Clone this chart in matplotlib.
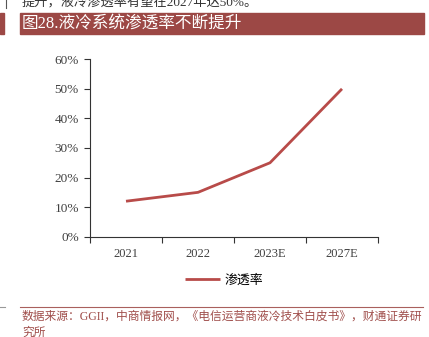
import matplotlib
matplotlib.use("Agg")
from matplotlib import pyplot as plt
from matplotlib.patches import Rectangle
from matplotlib.lines import Line2D
from matplotlib.ticker import FuncFormatter

years = ["2021", "2022", "2023E", "2027E"]
penetration = [12, 15, 25, 50]
series_name = "渗透率"
title = "图28.液冷系统渗透率不断提升"
source = "数据来源：GGII，中商情报网，《电信运营商液冷技术白皮书》，财通证券研"
source2 = "究所"
header_text = "提升，液冷渗透率有望在2027年达50%。"

fonts = ["Liberation Serif", "Noto Sans CJK SC"]
plt.rcParams["font.family"] = fonts

W, H = 429, 337
fig = plt.figure(figsize=(W / 100, H / 100), dpi=100)


def fx(px):
    return px / W


def fy(py):
    return 1 - py / H


red = "#9c4845"
line_red = "#b84b49"

# body text above the caption, running off the top edge
fig.text(fx(22), fy(9), header_text, fontsize=9.5, color="#333333",
         va="bottom", ha="left")
fig.add_artist(Line2D([fx(6), fx(6)], [fy(0), fy(8)], color="#555555", lw=0.8))

# caption bar
fig.patches.append(Rectangle((fx(20), fy(33.5)), fx(404), 20 / H,
                             transform=fig.transFigure, color=red, zorder=0))
fig.patches.append(Rectangle((0, fy(33.5)), fx(3.5), 20 / H,
                             transform=fig.transFigure, color=red, zorder=0))
fig.text(fx(22), fy(23.5), title, fontsize=12, color="white", va="center", ha="left")

# line chart
ax = fig.add_axes([fx(90), fy(236.7), fx(288), (236.7 - 59.3) / H])
x = list(range(len(years)))
ax.plot(x, penetration, color=line_red, lw=2, label=series_name, solid_capstyle="butt")
ax.set_xlim(-0.5, len(years) - 0.5)
ax.set_ylim(0, 60)
ax.set_yticks(range(0, 61, 10))
ax.yaxis.set_major_formatter(FuncFormatter(lambda v, _: f"{v:.0f}%"))
ax.set_xticks(x)
ax.set_xticklabels(years)
ax.set_xticks([i - 0.5 for i in range(len(years) + 1)], minor=True)
ax.tick_params(axis="x", which="major", length=0, pad=8, labelsize=9, labelcolor="#404040")
ax.tick_params(axis="x", which="minor", length=4, width=0.8, color="#333333")
ax.tick_params(axis="y", length=4, width=0.8, color="#333333", labelsize=9.5,
               labelcolor="#404040", pad=4)
for side in ("top", "right"):
    ax.spines[side].set_visible(False)
for side in ("left", "bottom"):
    ax.spines[side].set_color("#333333")
    ax.spines[side].set_linewidth(0.8)

ax.legend(loc="center", bbox_to_anchor=(fx(224), fy(280.5)),
          bbox_transform=fig.transFigure, frameon=False, fontsize=9.3,
          handlelength=2.7, handletextpad=0.4)

# source note
fig.add_artist(Line2D([fx(20), fx(423)], [fy(306.5), fy(306.5)], color="#a9605d", lw=0.8))
fig.add_artist(Line2D([fx(0), fx(5)], [fy(306.5), fy(306.5)], color="#999999", lw=0.8))
fig.text(fx(22), fy(316.5), source, fontsize=8.5, color="#a04e4b", va="center", ha="left")
fig.text(fx(22), fy(332.5), source2, fontsize=8.5, color="#a04e4b", va="center", ha="left")

fig.savefig("out.png", dpi=100)
